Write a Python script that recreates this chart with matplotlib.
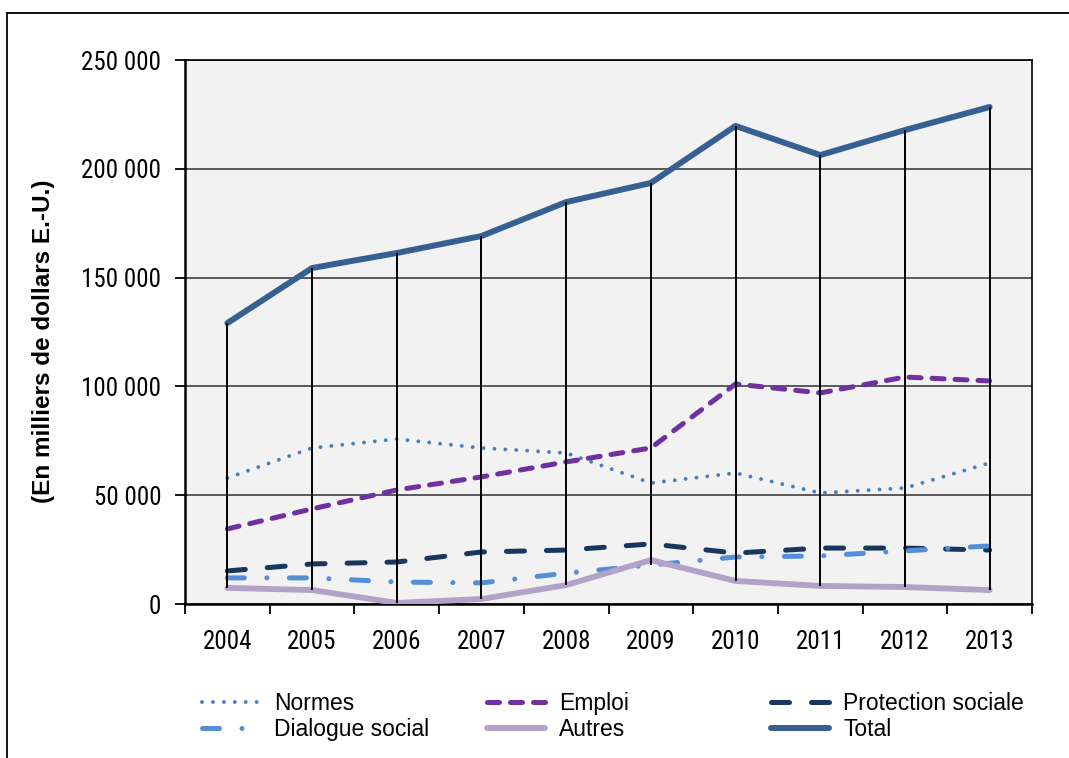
import matplotlib
matplotlib.use("Agg")
import matplotlib.pyplot as plt
from matplotlib.lines import Line2D
from matplotlib.ticker import FuncFormatter, FixedLocator
import numpy as np

plt.rcParams["font.family"] = ["Roboto Condensed", "Liberation Sans", "DejaVu Sans"]

years = ["2004", "2005", "2006", "2007", "2008", "2009", "2010", "2011", "2012", "2013"]
normes = [57900, 71700, 75800, 71700, 69400, 55600, 60200, 51000, 53300, 64800]
emploi = [34500, 43700, 52400, 58400, 65300, 71700, 101100, 97000, 104300, 102500]
protection = [15200, 18400, 19300, 23900, 24800, 27600, 23400, 25700, 25700, 24800]
dialogue = [12000, 12000, 10100, 9700, 14200, 17900, 21600, 22100, 24400, 26700]
autres = [7400, 6400, 500, 2300, 8700, 20200, 10600, 8300, 7800, 6400]
total = [129100, 154400, 161300, 169100, 184700, 193500, 219700, 206300, 217800, 228400]

x = np.arange(len(years))
FS = 18

fig = plt.figure(figsize=(10.69, 7.58), dpi=100)
ax = fig.add_axes([185 / 1069, 1 - 604 / 758, (1032 - 185) / 1069, (604 - 60) / 758])
ax.set_facecolor("#F2F2F2")

series = [
    ("Normes", normes, dict(color="#4A7EBB", lw=2.8, ls=(0, (0.01, 2.8)), dash_capstyle="round")),
    ("Emploi", emploi, dict(color="#7030A0", lw=3.6, ls=(0, (2.4, 2.2)), dash_capstyle="round")),
    ("Protection sociale", protection, dict(color="#17375E", lw=3.6, ls=(0, (3.6, 4.4)), dash_capstyle="round")),
    ("Dialogue social", dialogue, dict(color="#558ED5", lw=3.6, ls=(0, (3.4, 4.5, 0.01, 4.5)), dash_capstyle="round")),
    ("Autres", autres, dict(color="#B3A2C7", lw=4.2, ls="-", solid_capstyle="round")),
    ("Total", total, dict(color="#376092", lw=4.3, ls="-", solid_capstyle="round")),
]

handles = {}
for name, vals, style in series:
    (h,) = ax.plot(x, vals, zorder=3, **style)
    handles[name] = h

# high-low lines between the highest and lowest series each year
allv = np.array([normes, emploi, protection, dialogue, autres, total])
ax.vlines(x, allv.min(axis=0), allv.max(axis=0), color="black", lw=1.4, zorder=4)

ax.set_xlim(-0.5, len(years) - 0.5)
ax.set_ylim(0, 250000)
ax.set_yticks(np.arange(0, 250001, 50000))
ax.yaxis.set_major_formatter(FuncFormatter(lambda v, p: f"{int(v):,}".replace(",", " ")))
ax.grid(axis="y", color="#404040", lw=1.2, zorder=1)
ax.set_axisbelow(True)

ax.set_xticks(x)
ax.set_xticklabels(years)
ax.xaxis.set_minor_locator(FixedLocator(np.arange(-0.5, len(years), 1.0)))
ax.tick_params(axis="x", which="major", length=0, pad=18.5, labelsize=FS)
ax.tick_params(axis="x", which="minor", length=7, width=1.3, direction="out")
ax.tick_params(axis="y", length=7, width=1.3, direction="out", pad=10, labelsize=FS)

for s in ["left", "bottom"]:
    ax.spines[s].set_linewidth(1.8)
for s in ["top", "right"]:
    ax.spines[s].set_linewidth(1.2)

fig.text(44 / 1069, 1 - 341 / 758, "(En milliers de dollars E.-U.)", rotation=90,
         ha="center", va="center", fontsize=17.5, fontweight="bold",
         family=["Liberation Sans", "DejaVu Sans"])

# outer frame
fig.add_artist(Line2D([7 / 1069, 7 / 1069], [0, 1 - 13 / 758], color="black", lw=1.3))
fig.add_artist(Line2D([7 / 1069, 1], [1 - 13 / 758, 1 - 13 / 758], color="black", lw=1.3))

cols = [["Normes", "Dialogue social"], ["Emploi", "Autres"], ["Protection sociale", "Total"]]
xs = [202, 487, 771]
for names, xp in zip(cols, xs):
    fig.legend([handles[n] for n in names], names, loc="upper left",
               bbox_to_anchor=(xp / 1069, 1 - 692 / 758), frameon=False,
               prop={"family": ["Liberation Sans", "DejaVu Sans"], "size": 16.5},
               handlelength=2.55, handletextpad=0.6,
               labelspacing=0.14, borderpad=0, borderaxespad=0)

fig.savefig("out.png", dpi=100)
